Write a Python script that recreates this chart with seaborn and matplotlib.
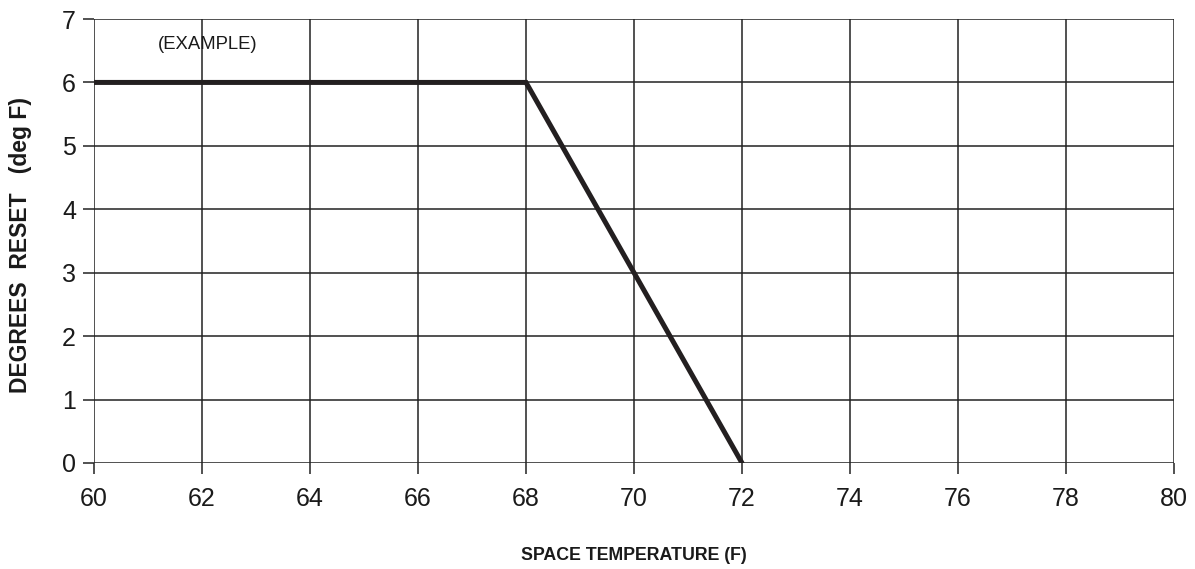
import matplotlib
matplotlib.use("Agg")
import matplotlib.pyplot as plt
import seaborn as sns
import pandas as pd

# reset curve (example)
space_temp = [60, 68, 72]
degrees_reset = [6, 6, 0]
x_ticks = list(range(60, 81, 2))
y_ticks = list(range(0, 8))

df = pd.DataFrame({"temp": space_temp, "reset": degrees_reset})

sns.set_style("white")
plt.rcParams["font.family"] = ["Liberation Sans", "DejaVu Sans"]
plt.rcParams["text.color"] = "#1a1a1a"
plt.rcParams["axes.labelcolor"] = "#1a1a1a"
plt.rcParams["xtick.color"] = "#1a1a1a"
plt.rcParams["ytick.color"] = "#1a1a1a"

fig = plt.figure(figsize=(11.95, 5.69), dpi=100)
ax = fig.add_axes([0.0787, 0.1863, 0.9037, 0.7803])

sns.lineplot(data=df, x="temp", y="reset", color="#231f20", linewidth=3.6,
             ax=ax, zorder=3, solid_joinstyle="miter")

ax.set_xlim(60, 80)
ax.set_ylim(0, 7)
ax.set_xticks(x_ticks)
ax.set_yticks(y_ticks)
ax.grid(True, color="#222222", linewidth=1.1)
for s in ax.spines.values():
    s.set_visible(False)
ax.tick_params(axis="both", which="both", length=8, width=1.1, color="#222222",
               labelsize=18, direction="out", bottom=True, left=True)
ax.tick_params(axis="x", pad=9)
ax.tick_params(axis="y", pad=5)

ax.text(62.1, 6.6, "(EXAMPLE)", fontsize=13.3, ha="center", va="center")

ax.set_xlabel("SPACE TEMPERATURE (F)", fontsize=12.8, fontweight="bold", labelpad=26)
ax.set_ylabel("DEGREES  RESET   (deg F)", fontsize=16.5, fontweight="bold")
ax.yaxis.set_label_coords(-0.057, 0.49)

fig.savefig("out.png", dpi=100)
